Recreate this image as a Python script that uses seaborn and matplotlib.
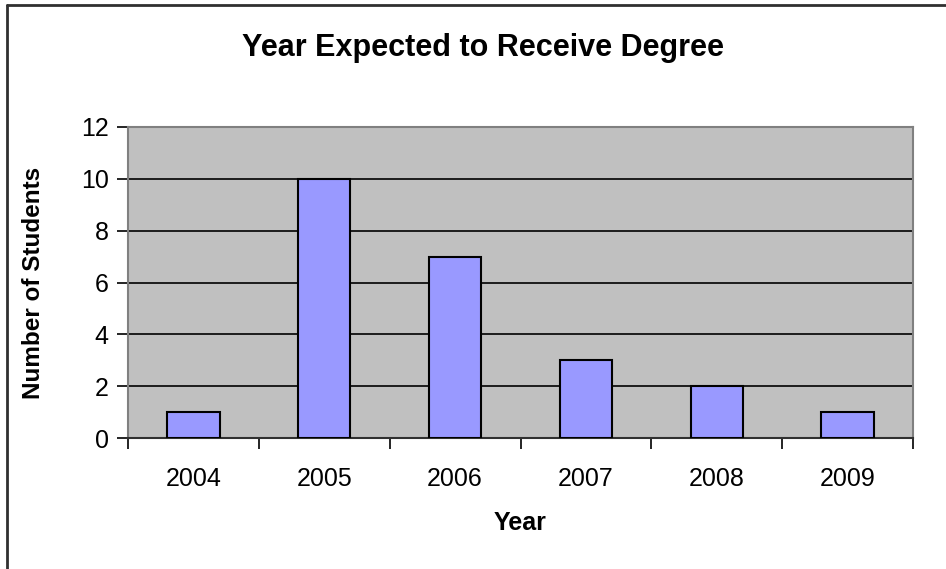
import numpy as np
import pandas as pd
import seaborn as sns
from matplotlib import pyplot as plt
from matplotlib.lines import Line2D

years = ["2004", "2005", "2006", "2007", "2008", "2009"]
students = [1, 10, 7, 3, 2, 1]

df = pd.DataFrame({"Year": years, "Students": students})

sns.set_style("white")
plt.rcParams['font.family'] = ['Liberation Sans', 'DejaVu Sans']
plt.rcParams['text.color'] = 'black'
plt.rcParams['axes.labelcolor'] = 'black'
plt.rcParams['xtick.color'] = 'black'
plt.rcParams['ytick.color'] = 'black'

W, H = 946, 569
fig = plt.figure(figsize=(W / 100, H / 100), dpi=100)
# plot area in pixels: left 128, right 913, top 127, bottom 438
ax = fig.add_axes([128 / W, 1 - 438 / H, (913 - 128) / W, (438 - 127) / H])
ax.set_facecolor("#C0C0C0")

sns.barplot(data=df, x="Year", y="Students", color="#9999FF", width=0.4,
            edgecolor="black", linewidth=1.5, saturation=1, ax=ax, zorder=3)

ax.set_ylim(0, 12)
ax.set_xlim(-0.5, 5.5)
ax.set_yticks(range(0, 13, 2))
ax.yaxis.grid(True, color="black", linewidth=1.2, zorder=0)
ax.set_axisbelow(True)

# category ticks sit between the bars, like the old spreadsheet style
ax.set_xticks(np.arange(-0.5, 6, 1), minor=False)
ax.set_xticklabels([])
ax.set_xticks(range(len(years)), minor=True)
ax.set_xticklabels(years, minor=True)
ax.tick_params(axis="x", which="major", direction="out", length=8, width=1.2,
               color="black", bottom=True)
ax.tick_params(axis="x", which="minor", length=0, pad=21, labelsize=18)
ax.tick_params(axis="y", direction="out", length=8, width=1.2, color="black",
               left=True, labelsize=18, pad=6)

for side in ["top", "right", "left"]:
    ax.spines[side].set_color("#808080")
    ax.spines[side].set_linewidth(1.5)
ax.spines["bottom"].set_color("#303030")
ax.spines["bottom"].set_linewidth(1.5)

ax.set_xlabel("Year", fontsize=18, fontweight="bold", labelpad=14)
ax.set_ylabel("Number of Students", fontsize=17.5, fontweight="bold", labelpad=26)
fig.text(483 / W, 1 - 48 / H, "Year Expected to Receive Degree", fontsize=22,
         fontweight="bold", ha="center", va="center")

# chart frame (only left and top edges are visible in the crop)
fig.add_artist(Line2D([7 / W, 7 / W], [0, 1 - 5 / H], color="#303030", linewidth=2))
fig.add_artist(Line2D([7 / W, 1], [1 - 5 / H, 1 - 5 / H], color="#303030", linewidth=2))

fig.savefig("out.png", dpi=100)
